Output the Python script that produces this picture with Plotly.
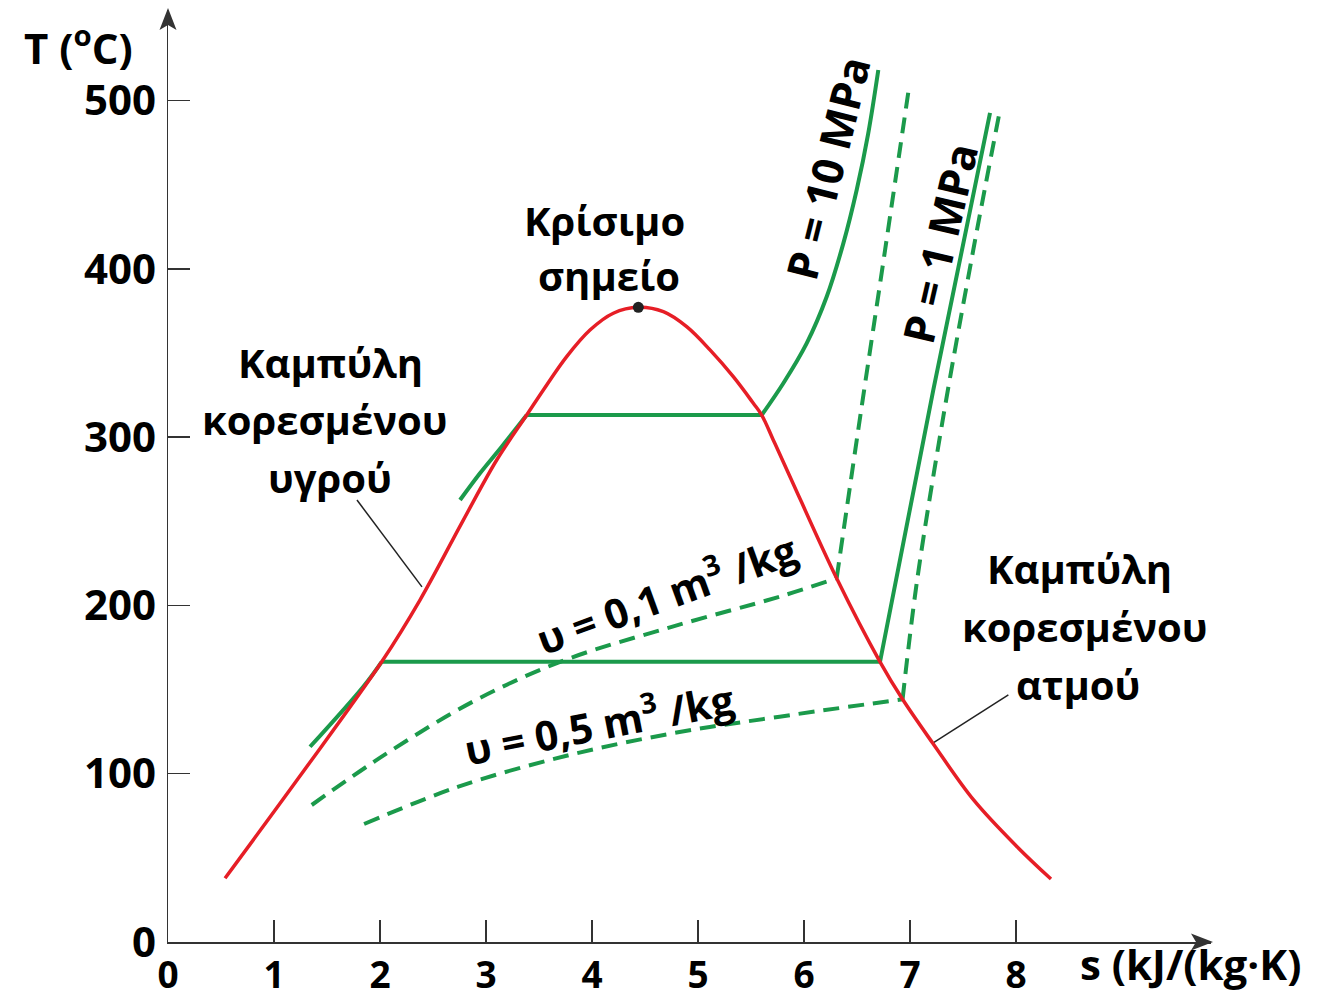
import plotly.graph_objects as go

# ---------------- data ----------------
# saturation dome (s in kJ/(kg K), T in degC)
dome_s = [0.538, 1.245, 2.016, 2.377, 2.786, 3.101, 3.384, 3.541, 3.761, 3.981, 4.201, 4.437,
          4.673, 4.893, 5.113, 5.333, 5.522, 5.601, 5.710, 5.868, 6.308, 6.717, 6.930, 7.215,
          7.600, 8.010, 8.330]
dome_T = [37.9, 98.6, 166.5, 203.2, 250.7, 286.4, 313.1, 328.0, 347.8, 363.6, 373.6, 377.1,
          374.5, 365.6, 351.8, 335.9, 320.1, 313.1, 298.3, 276.5, 216.1, 166.5, 144.2, 118.1,
          84.4, 56.6, 37.4]

crit_s = [4.437]
crit_T = [377.1]

# isobar P = 10 MPa
p10_liq_s = [2.755, 2.943, 3.148, 3.384]
p10_liq_T = [262.6, 278.5, 294.3, 313.1]
p10_mix_s = [3.384, 5.601]
p10_mix_T = [313.1, 313.1]
p10_vap_s = [5.601, 5.805, 6.025, 6.214, 6.371, 6.497, 6.606, 6.701]
p10_vap_T = [313.1, 332.0, 355.7, 383.4, 415.1, 446.8, 480.5, 518.1]

# isobar P = 1 MPa
p1_liq_s = [1.340, 1.842, 2.016]
p1_liq_T = [116.0, 151.7, 166.5]
p1_mix_s = [2.016, 6.717]
p1_mix_T = [166.5, 166.5]
p1_vap_s = [6.717, 7.220, 7.755]
p1_vap_T = [166.5, 328.0, 492.6]

# isochore v = 0.1 m3/kg
v01_mix_s = [1.356, 2.064, 2.906, 3.748, 4.760, 5.770, 6.308]
v01_mix_T = [81.4, 112.1, 143.8, 167.6, 187.4, 205.2, 216.1]
v01_vap_s = [6.308, 6.530, 6.765, 6.994]
v01_vap_T = [216.1, 312.1, 411.2, 509.2]

# isochore v = 0.5 m3/kg
v05_mix_s = [1.850, 2.740, 3.750, 4.760, 5.770, 6.930]
v05_mix_T = [70.1, 92.3, 110.5, 124.0, 133.9, 144.2]
v05_vap_s = [6.930, 7.063, 7.314, 7.597, 7.840]
v05_vap_T = [144.2, 213.1, 312.1, 411.2, 491.4]

# leader lines of the two curve labels
lead_liq_s = [1.783, 2.396]
lead_liq_T = [262.6, 211.0]
lead_vap_s = [7.928, 7.215]
lead_vap_T = [146.8, 118.1]

x_ticks = [0, 1, 2, 3, 4, 5, 6, 7, 8]
y_ticks = [0, 100, 200, 300, 400, 500]

# ---------------- styling ----------------
RED = "#E61E26"
GREEN = "#1B9A4B"
AXIS = "#333333"
FONT = "Open Sans"
DASH = "16px,9px"

W, H = 1327, 993
ML, MR, MT, MB = 168, 116, 10, 51
PW, PH = W - ML - MR, H - MT - MB
XPX, YPX = 106.0, 1.683          # pixels per unit of s / per degree
XMAX, YMAX = PW / XPX, PH / YPX


def px(x):
    return (x - ML) / PW


def py(y):
    return (H - MB - y) / PH


fig = go.Figure()


def add_line(xs, ys, color, width, dash="solid", spline=True):
    fig.add_trace(go.Scatter(
        x=xs, y=ys, mode="lines",
        line=dict(color=color, width=width, dash=dash,
                  shape="spline" if spline else "linear", smoothing=1.0),
        hoverinfo="skip", showlegend=False, cliponaxis=False))


# green isobars (solid)
add_line(p10_liq_s, p10_liq_T, GREEN, 4)
add_line(p10_mix_s, p10_mix_T, GREEN, 4, spline=False)
add_line(p10_vap_s, p10_vap_T, GREEN, 4)
add_line(p1_liq_s, p1_liq_T, GREEN, 4)
add_line(p1_mix_s, p1_mix_T, GREEN, 4, spline=False)
add_line(p1_vap_s, p1_vap_T, GREEN, 4)
# green isochores (dashed)
add_line(v01_mix_s, v01_mix_T, GREEN, 4, DASH)
add_line(v01_vap_s, v01_vap_T, GREEN, 4, DASH)
add_line(v05_mix_s, v05_mix_T, GREEN, 4, DASH)
add_line(v05_vap_s, v05_vap_T, GREEN, 4, DASH)
# leader lines
add_line(lead_liq_s, lead_liq_T, "#222222", 1.5, spline=False)
add_line(lead_vap_s, lead_vap_T, "#222222", 1.5, spline=False)
# saturation dome (red)
add_line(dome_s, dome_T, RED, 3.5)
# critical point
fig.add_trace(go.Scatter(x=crit_s, y=crit_T, mode="markers",
                         marker=dict(color="#222222", size=11),
                         hoverinfo="skip", showlegend=False, cliponaxis=False))

common = dict(showline=True, linecolor=AXIS, linewidth=1.5, showgrid=False, zeroline=False,
              ticks="inside", ticklen=22, tickwidth=1.5, tickcolor=AXIS,
              automargin=False, fixedrange=True)
fig.update_xaxes(range=[0, XMAX], tickvals=x_ticks, ticktext=[str(v) for v in x_ticks],
                 tickfont=dict(family=FONT, size=37, color="black", weight="bold"),
                 ticklabelstandoff=0, **common)
fig.update_yaxes(range=[0, YMAX], tickvals=y_ticks, ticktext=[str(v) for v in y_ticks],
                 tickfont=dict(family=FONT, size=42, color="black", weight="bold"),
                 ticklabelstandoff=2, **common)

# axis arrowheads (small notched triangles at the ends of the axes)
def arrow_path(points):
    return "M " + " L ".join(f"{px(a):.5f},{py(b):.5f}" for a, b in points) + " Z"


shapes = [
    dict(type="path", xref="paper", yref="paper", line=dict(width=0), fillcolor=AXIS,
         path=arrow_path([(1213, 942), (1191, 933.5), (1196, 942), (1191, 950.5)])),
    dict(type="path", xref="paper", yref="paper", line=dict(width=0), fillcolor=AXIS,
         path=arrow_path([(168, 8), (159.5, 30), (168, 25), (176.5, 30)])),
]

annotations = []


def label(text, x, y, size=40, angle=0):
    annotations.append(dict(x=px(x), y=py(y), xref="paper", yref="paper", text=text,
                            showarrow=False, xanchor="center", yanchor="middle",
                            textangle=angle,
                            font=dict(family=FONT, size=size, color="black", weight="bold")))


label("T (<sup>o</sup>C)", 78, 45, 42)
label("s (kJ/(kg·K)", 1190, 963, 42)
label("Κρίσιμο", 604, 220)
label("σημείο", 609, 275)
label("Καμπύλη", 330, 362)
label("κορεσμένου", 325, 419)
label("υγρού", 330, 477)
label("Καμπύλη", 1079, 568)
label("κορεσμένου", 1085, 626)
label("ατμού", 1078, 684)
label("P = 10 MPa", 828, 168, 43, -76)
label("P = 1 MPa", 940, 244, 43, -77)
label("υ = 0,1 m<sup>3</sup> /kg", 665, 592, 41, -20)
label("υ = 0,5 m<sup>3</sup> /kg", 598, 722, 41, -11)

fig.update_layout(
    width=W, height=H,
    margin=dict(l=ML, r=MR, t=MT, b=MB),
    paper_bgcolor="white", plot_bgcolor="white",
    showlegend=False, hovermode=False,
    annotations=annotations, shapes=shapes,
    font=dict(family=FONT),
)

fig.write_html("out.html", config={"displayModeBar": False, "staticPlot": True})

# remove the browser's default page margin so the figure sits at the window's top-left corner
with open("out.html", encoding="utf-8") as f:
    page = f.read()
page = page.replace("<head>", "<head><style>html,body{margin:0;padding:0;overflow:hidden;}</style>", 1)
with open("out.html", "w", encoding="utf-8") as f:
    f.write(page)
